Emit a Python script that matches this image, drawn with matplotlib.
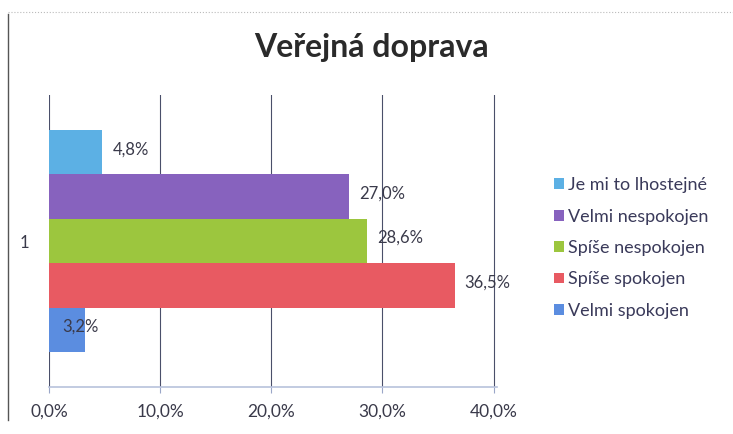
import matplotlib.pyplot as plt
from matplotlib.patches import Patch

# series, listed top to bottom as in the legend
series = ['Je mi to lhostejné', 'Velmi nespokojen', 'Spíše nespokojen',
          'Spíše spokojen', 'Velmi spokojen']
values = [4.8, 27.0, 28.6, 36.5, 3.2]
colors = ['#5cb0e4', '#8762be', '#9cc63e', '#e85a62', '#5b8de0']
category = '1'
xticks = [0, 10, 20, 30, 40]

plt.rcParams['font.family'] = ['Lato', 'DejaVu Sans']

fig = plt.figure(figsize=(7.33, 4.34), dpi=100)
ax = fig.add_axes([49 / 733, 1 - 387 / 434, 448 / 733, 292 / 434])

n = len(series)
h = 0.152
for i, (name, v, c) in enumerate(zip(series, values, colors)):
    y = (n - 1) / 2 * h - i * h
    ax.barh(y, v, height=h, color=c, zorder=2)
    lx = v + 0.9 if v > 4 else 1.2
    ax.text(lx, y + 0.01, f'{v:.1f}%'.replace('.', ','), va='center', ha='left',
            fontsize=12, color='#3a3a4a', zorder=3)

ax.set_xlim(0, 40.3)
ax.set_ylim(-0.5, 0.5)
ax.set_xticks(xticks)
ax.set_xticklabels([f'{t:.1f}%'.replace('.', ',') for t in xticks],
                   fontsize=12.5, color='#3a3a4a')
ax.set_yticks([0])
ax.set_yticklabels([category], fontsize=12, color='#3a3a4a')
ax.tick_params(axis='y', length=0, pad=14)
ax.tick_params(axis='x', length=4, color='#9aa6c8', pad=8)
ax.grid(axis='x', color='#4a4f6a', linewidth=0.8, zorder=0)
for s in ['top', 'right', 'left']:
    ax.spines[s].set_visible(False)
ax.spines['bottom'].set_color('#b8c2dc')
ax.spines['bottom'].set_linewidth(1.2)

fig.text(371 / 733, 1 - 48 / 434, 'Veřejná doprava', ha='center', va='center',
         fontsize=23, fontweight='bold', color='#2a2a2a')

handles = [Patch(facecolor=c, edgecolor='none') for c in colors]
fig.legend(handles, series, loc='center left', bbox_to_anchor=(538 / 733, 1 - 248 / 434),
           frameon=False, fontsize=13, labelcolor='#3a3a5a', handlelength=0.55,
           handleheight=0.55, handletextpad=0.2, labelspacing=0.85)

# chart area border (left and top)
fig.add_artist(plt.Line2D([8 / 733, 8 / 733], [1 - 420 / 434, 1 - 14 / 434],
                          color='#555555', linewidth=1.0))
fig.add_artist(plt.Line2D([8 / 733, 1.0], [1 - 12 / 434, 1 - 12 / 434],
                          color='#bbbbbb', linewidth=0.8, linestyle=':'))

fig.savefig('out.png', dpi=100)
